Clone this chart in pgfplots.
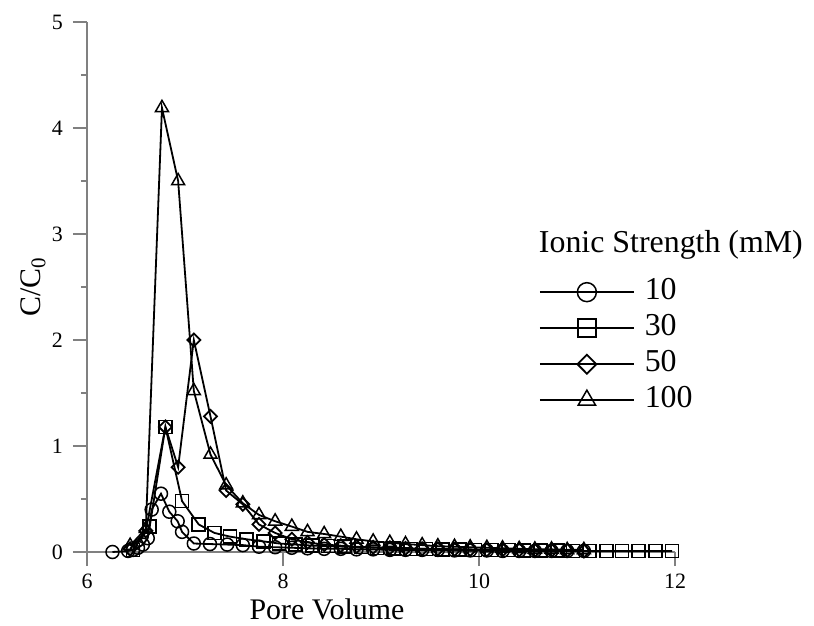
\documentclass[border=0pt]{standalone}
\usepackage{fontspec}
\setmainfont{Liberation Serif}
\usepackage{pgfplots}
\pgfplotsset{compat=1.18}
\begin{document}
\begin{tikzpicture}
\begin{axis}[
    scale only axis, width=588bp, height=530bp,
    xmin=6, xmax=12, ymin=0, ymax=5,
    axis x line*=bottom, axis y line*=left,
    axis line style={gray, line width=1.6bp},
    xtick={6,8,10,12}, ytick={0,1,2,3,4,5},
    minor ytick={0.5,1.5,2.5,3.5,4.5},
    tick align=outside, major tick length=14bp, minor tick length=6bp,
    tick style={gray, line width=1.3bp},
    /pgf/number format/assume math mode=true,
    tick label style={font=\fontsize{22}{24}\selectfont},
    xticklabel style={inner sep=0pt, yshift=-8bp},
    yticklabel style={inner sep=0pt, xshift=-10bp},
    xlabel={Pore Volume}, ylabel={C/C\textsubscript{0}},
    label style={font=\fontsize{30}{33}\selectfont},
    xlabel style={at={(axis description cs:0.408,0)}, anchor=base, inner sep=0pt,
        yshift=-67bp},
    ylabel style={at={(axis description cs:0,0.5)}, anchor=center, yshift=54bp},
    clip=false,
    every axis plot/.append style={black, line width=1.8bp, mark size=6.5bp,
        mark options={line width=1.5bp}},
    legend style={draw=none, fill=none, inner sep=0pt, at={(axis cs:10.61,2.59)},
        anchor=north west, font=\fontsize{32}{36}\selectfont,
        nodes={inner sep=0pt, text height=22bp, text depth=7bp}, row sep=7bp,
        /tikz/every odd column/.append style={column sep=10bp}},
    legend cell align=left,
    legend image code/.code={\draw[mark repeat=2, mark phase=2]
        plot coordinates {(0bp,0bp) (47bp,0bp) (94bp,0bp)};},
]
% 100 mM
\addplot[mark=triangle, mark size=7.5bp, forget plot] coordinates {
  (6.44,0.06) (6.60,0.22) (6.765,4.19) (6.93,3.50) (7.09,1.52) (7.26,0.92)
  (7.42,0.63) (7.59,0.46) (7.755,0.35) (7.92,0.29) (8.09,0.24) (8.25,0.19)
  (8.42,0.17) (8.59,0.145) (8.75,0.12) (8.92,0.10) (9.09,0.088) (9.25,0.075)
  (9.42,0.065) (9.58,0.055) (9.75,0.05) (9.91,0.045) (10.08,0.04) (10.24,0.035)
  (10.41,0.03) (10.57,0.025) (10.74,0.025) (10.90,0.02) (11.07,0.02)};
% 50 mM
\addplot[mark=diamond, mark options={xscale=1.33}, forget plot] coordinates {
  (6.44,0.03) (6.60,0.20) (6.80,1.18) (6.93,0.80) (7.09,2.00) (7.26,1.28)
  (7.42,0.58) (7.59,0.45) (7.755,0.26) (7.92,0.18) (8.09,0.12) (8.25,0.09)
  (8.42,0.07) (8.59,0.06) (8.75,0.05) (8.92,0.045) (9.09,0.04) (9.25,0.035)
  (9.42,0.03) (9.58,0.03) (9.75,0.025) (9.91,0.025) (10.08,0.02) (10.24,0.02)
  (10.41,0.02) (10.57,0.015) (10.74,0.015) (10.90,0.015) (11.07,0.01)};
% 30 mM
\addplot[mark=square, forget plot] coordinates {
  (6.47,0.02) (6.64,0.24) (6.80,1.18) (6.97,0.48) (7.14,0.26) (7.30,0.18)
  (7.46,0.145) (7.63,0.12) (7.80,0.10) (7.96,0.08) (8.13,0.07) (8.30,0.06)
  (8.46,0.055) (8.63,0.05) (8.80,0.045) (8.96,0.04) (9.13,0.035) (9.30,0.03)
  (9.46,0.03) (9.63,0.025) (9.80,0.025) (9.96,0.02) (10.13,0.02) (10.30,0.02)
  (10.46,0.015) (10.63,0.015) (10.80,0.015) (10.96,0.01) (11.13,0.01)
  (11.30,0.01) (11.46,0.01) (11.63,0.01) (11.80,0.01) (11.97,0.01)};
% 10 mM
\addplot[mark=o, forget plot] coordinates {
  (6.26,0.00) (6.42,0.01) (6.47,0.02) (6.52,0.04) (6.57,0.07) (6.62,0.13)
  (6.66,0.40) (6.755,0.55) (6.84,0.38) (6.925,0.29) (6.97,0.19) (7.09,0.08)
  (7.255,0.075) (7.43,0.07) (7.59,0.065) (7.755,0.05) (7.92,0.045) (8.09,0.04)
  (8.25,0.035) (8.42,0.03) (8.59,0.03) (8.75,0.025) (8.92,0.025) (9.09,0.02)
  (9.25,0.02) (9.42,0.02) (9.58,0.02) (9.75,0.015) (9.91,0.015) (10.08,0.015)
  (10.24,0.01) (10.41,0.01) (10.57,0.01) (10.74,0.01) (10.90,0.01) (11.07,0.01)};
\addlegendimage{mark=o, mark size=9.5bp}
\addlegendentry{10}
\addlegendimage{mark=square, mark size=9bp}
\addlegendentry{30}
\addlegendimage{mark=diamond, mark size=9.5bp, mark options={xscale=1.33}}
\addlegendentry{50}
\addlegendimage{mark=triangle, mark size=10bp}
\addlegendentry{100}
\node[anchor=base west, inner sep=0pt, font=\fontsize{32}{36}\selectfont]
  at (axis cs:10.61,2.83) {Ionic Strength (mM)};
\end{axis}
\pgfresetboundingbox
\path[use as bounding box] (-87bp,-74bp) rectangle (727bp,552bp);
\end{tikzpicture}
\end{document}
